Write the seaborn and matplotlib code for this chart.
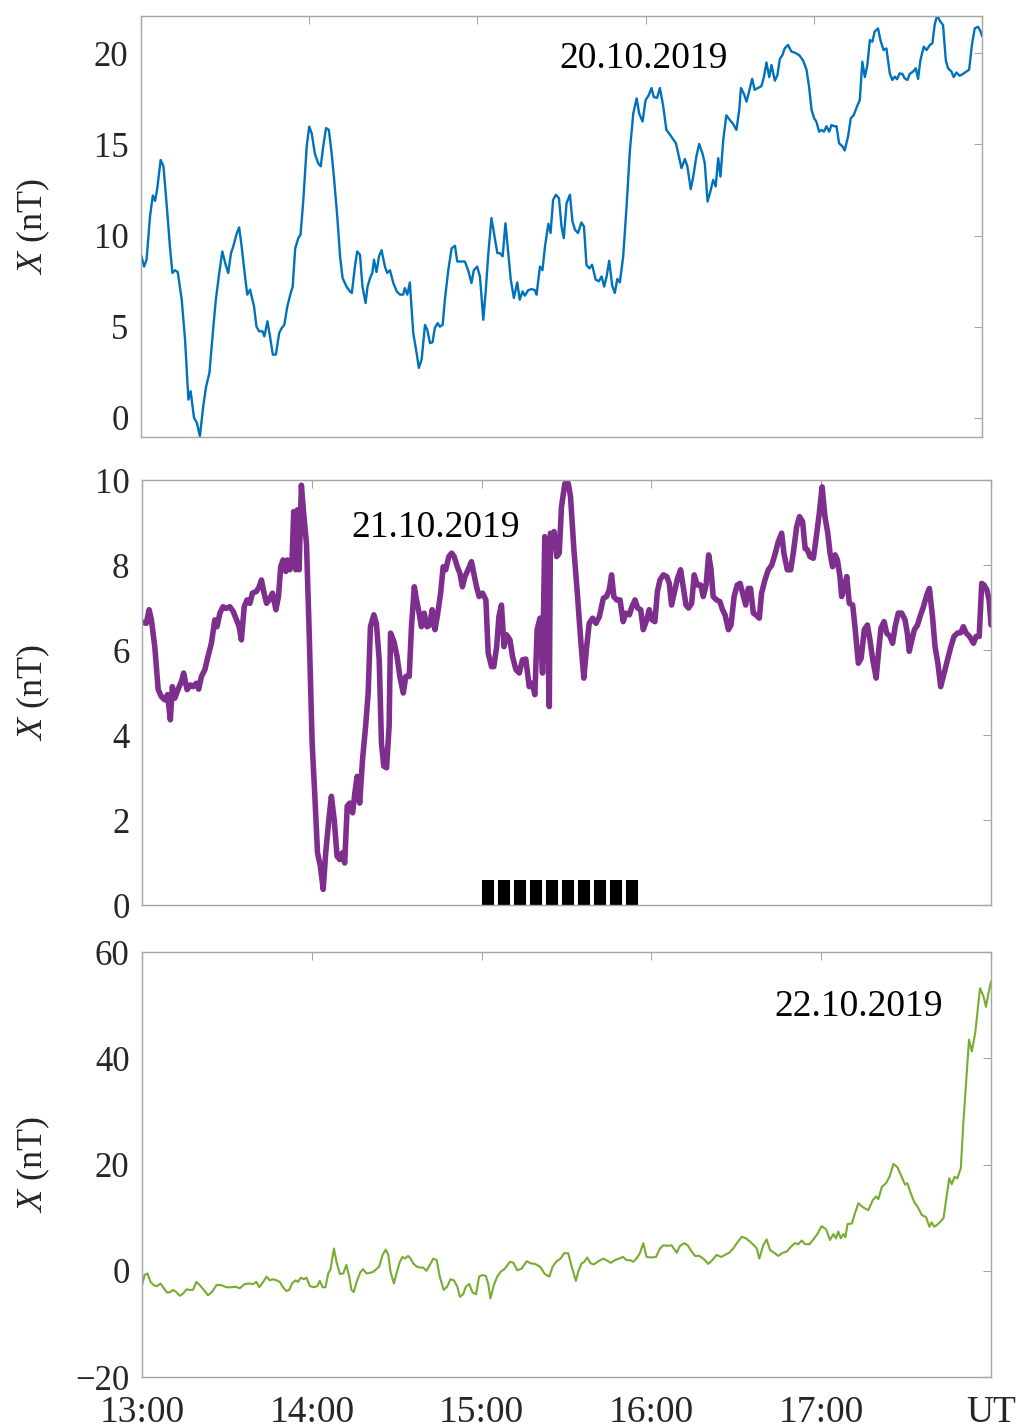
import numpy as np
import pandas as pd
import seaborn as sns
import matplotlib.pyplot as plt

# minutes after 13:00 UT and X component (nT)
t20 = [0.0, 1.1, 2.0, 3.2, 4.2, 5.0, 5.8, 7.0, 8.0, 9.2, 10.3, 11.2, 12.1, 13.1, 14.5, 15.7,
       16.9, 17.7, 18.9, 19.9, 21.0, 22.2, 23.2, 24.4, 25.8, 26.7, 27.9, 29.0, 30.0, 31.1,
       32.1, 32.9, 34.1, 35.0, 35.9, 37.1, 37.9, 38.9, 40.3, 41.2, 42.1, 43.3, 44.0, 45.1,
       46.0, 47.0, 48.1, 49.3, 50.2, 51.1, 52.2, 53.4, 54.1, 55.0, 56.1, 56.9, 57.9, 59.1,
       60.0, 60.9, 62.0, 63.2, 64.1, 65.0, 66.0, 67.0, 68.0, 68.9, 70.0, 71.0, 71.9, 73.3,
       74.5, 75.2, 76.3, 77.1, 78.1, 79.0, 80.1, 80.8, 81.7, 82.5, 83.1, 84.0, 84.9, 85.8,
       87.0, 87.8, 88.8, 90.0, 91.2, 92.4, 93.5, 94.1, 95.0, 95.9, 97.1, 98.3, 99.1, 100.1,
       101.3, 102.1, 103.1, 104.0, 104.8, 105.8, 106.6, 107.6, 108.4, 109.6, 110.8, 112.0,
       112.8, 114.3, 115.5, 116.7, 117.9, 118.7, 119.9, 120.9, 122.1, 123.0, 123.9, 125.0,
       125.9, 127.1, 128.0, 129.0, 130.0, 131.0, 131.9, 133.0, 134.2, 135.1, 136.1, 136.9,
       138.1, 139.3, 140.5, 141.1, 142.3, 143.2, 144.1, 145.3, 146.1, 147.0, 148.0, 149.1,
       150.0, 150.8, 151.8, 153.0, 153.9, 154.8, 155.9, 157.1, 158.0, 158.9, 159.9, 160.9,
       162.2, 163.3, 164.3, 165.2, 166.1, 167.0, 168.1, 169.0, 169.9, 170.8, 172.0, 173.2,
       174.4, 175.6, 176.8, 177.7, 178.9, 180.0, 181.1, 182.1, 182.9, 184.1, 185.1, 186.3,
       187.4, 188.4, 189.6, 190.8, 192.0, 192.8, 194.0, 194.9, 196.1, 197.0, 198.1, 199.1,
       200.3, 201.1, 202.1, 203.1, 204.1, 205.0, 205.9, 206.7, 207.7, 208.8, 210.0, 211.2,
       212.4, 213.4, 214.0, 215.0, 216.0, 216.9, 218.0, 218.9, 220.1, 221.3, 222.2, 223.1,
       224.1, 224.9, 226.1, 227.0, 227.9, 228.8, 229.6, 230.8, 232.0, 233.2, 234.8, 236.2,
       237.4, 238.3, 239.2, 240.1, 240.9, 241.9, 242.7, 243.6, 244.5, 245.5, 246.3, 247.2,
       248.1, 249.0, 250.2, 251.0, 252.2, 253.2, 254.2, 255.4, 256.4, 257.3, 258.2, 259.1,
       260.0, 260.9, 261.7, 262.9, 263.9, 264.9, 265.9, 267.1, 268.0, 268.9, 269.7, 270.6,
       271.6, 272.4, 273.4, 274.2, 275.4, 276.4, 277.2, 278.0, 279.2, 280.2, 281.4, 282.3,
       283.1, 284.0, 284.9, 286.1, 287.1, 287.9, 289.1, 289.9, 290.9, 292.0, 293.2, 294.4,
       295.4, 296.4, 297.4, 298.6, 299.5, 300.0]
x20 = [8.95, 8.3, 8.7, 11.05, 12.2, 11.9, 12.6, 14.15, 13.8, 11.6, 9.4, 7.95, 8.1, 8.0, 6.5, 4.3,
       1.0, 1.46, 0.0, -0.27, -1.0, 0.64, 1.7, 2.47, 5.0, 6.5, 7.95, 9.13, 8.5, 7.95,
       9.04, 9.4, 10.1, 10.45, 9.4, 7.76, 6.76, 7.03, 6.12, 5.0, 4.75, 4.75, 4.47, 5.3,
       4.47, 3.47, 3.47, 4.66, 4.93, 5.1, 6.12, 6.85, 7.2, 9.3, 9.86, 10.05, 11.96, 14.9,
       15.98, 15.6, 14.5, 13.97, 13.8, 14.9, 15.9, 15.8, 14.5, 13.06, 11.05, 8.86, 7.67, 7.2,
       6.94, 6.85, 8.3, 9.13, 8.95, 7.2, 6.3, 7.2, 7.67, 7.95, 8.68, 8.0, 8.86, 9.2,
       8.3, 7.95, 8.1, 7.4, 6.94, 6.76, 6.76, 7.12, 6.76, 7.43, 4.66, 3.56, 2.74, 3.2,
       5.1, 4.84, 4.1, 4.15, 4.93, 5.2, 5.0, 5.1, 6.5, 8.1, 9.3, 9.44,
       8.58, 8.58, 8.58, 8.1, 7.4, 8.1, 8.3, 7.76, 5.38, 7.03, 9.04, 10.96,
       10.14, 9.04, 9.04, 8.86, 10.68, 9.04, 7.58, 6.58, 7.43, 6.48, 6.94, 6.7,
       7.0, 7.07, 7.0, 6.76, 8.3, 8.1, 9.4, 10.65, 10.14, 11.96, 12.24, 12.05,
       10.5, 9.86, 11.78, 12.24, 10.78, 10.32, 10.14, 10.72, 10.5, 8.4, 8.2, 8.4,
       7.58, 7.49, 7.76, 7.2, 7.76, 8.62, 7.25, 6.85, 7.62, 7.43, 8.86, 11.6,
       14.7, 16.7, 17.53, 16.7, 16.26, 17.44, 17.7, 18.1, 17.6, 17.56, 18.1, 17.08,
       15.8, 15.6, 15.34, 15.07, 14.25, 13.7, 14.2, 13.8, 12.55, 13.24, 14.34, 15.03,
       14.5, 13.97, 11.87, 12.42, 13.06, 12.7, 14.25, 13.24, 15.25, 16.6, 16.35, 16.13,
       15.8, 16.9, 18.1, 17.8, 17.35, 17.9, 18.6, 18.0, 18.1, 18.2, 18.7, 19.5,
       18.7, 19.36, 18.5, 18.8, 19.7, 19.9, 20.27, 20.46, 20.1, 20.04, 19.9, 19.6,
       19.1, 18.17, 16.9, 16.44, 16.26, 15.7, 15.8, 15.7, 16.0, 15.7, 16.07, 16.0,
       16.0, 15.07, 14.9, 14.67, 15.43, 16.44, 16.6, 17.08, 17.44, 19.54, 18.7, 19.36,
       20.73, 20.64, 21.19, 21.37, 20.64, 20.18, 20.27, 18.9, 18.54, 18.72, 18.58, 18.9,
       18.87, 18.63, 18.54, 18.87, 19.0, 19.18, 18.6, 19.6, 20.37, 20.18, 20.46, 20.55,
       21.55, 22.1, 21.8, 21.55, 19.6, 19.18, 19.0, 18.7, 18.95, 18.77, 18.87, 19.0,
       19.1, 20.46, 21.37, 21.46, 21.2, 20.95]

t21 = [0.0, 1.5, 2.5, 3.3, 4.5, 5.7, 6.8, 8.0, 9.0, 10.0, 10.7, 11.6, 12.7, 13.9, 14.7, 15.9,
       17.1, 18.0, 19.2, 20.0, 21.0, 22.2, 23.3, 24.5, 25.7, 26.5, 27.5, 28.6, 29.8, 31.0,
       32.2, 33.4, 34.3, 35.1, 36.1, 37.1, 38.1, 39.0, 40.4, 41.4, 42.2, 43.1, 44.0, 44.9,
       46.1, 47.3, 48.2, 49.0, 49.8, 50.8, 51.4, 52.2, 53.0, 53.6, 54.3, 54.9, 55.5, 56.3,
       57.2, 58.1, 59.0, 60.1, 61.0, 62.0, 63.0, 64.0, 64.9, 66.0, 66.9, 67.9, 68.9, 69.9,
       70.8, 71.6, 72.5, 73.4, 74.4, 75.2, 76.0, 76.9, 77.9, 79.0, 79.9, 80.7, 81.9, 82.8,
       83.8, 84.6, 85.4, 86.4, 87.3, 87.8, 89.0, 90.1, 91.1, 92.3, 93.2, 94.4, 95.2, 96.2,
       97.0, 97.9, 98.7, 99.7, 100.7, 101.7, 102.5, 103.5, 104.4, 105.5, 106.4, 107.3,
       108.4, 109.4, 110.3, 111.4, 112.3, 113.2, 114.1, 115.2, 116.4, 117.2, 118.2, 119.1,
       120.3, 121.5, 122.3, 123.5, 124.3, 125.3, 126.1, 127.0, 127.9, 128.8, 130.0, 130.9,
       132.1, 133.3, 134.4, 135.6, 136.8, 137.8, 138.8, 139.6, 140.6, 141.5, 142.3, 143.2,
       143.9, 144.3, 145.1, 145.6, 146.5, 147.4, 148.2, 149.4, 150.6, 151.4, 152.6, 153.8,
       155.0, 156.1, 157.1, 158.0, 159.2, 160.4, 161.6, 163.0, 164.1, 165.1, 165.9, 166.7,
       167.7, 168.9, 170.0, 171.0, 172.2, 173.1, 174.2, 175.1, 176.2, 177.1, 178.3, 179.2,
       180.2, 181.2, 182.1, 183.0, 184.2, 185.4, 186.3, 187.1, 188.3, 189.2, 190.3, 191.2,
       192.2, 193.1, 194.2, 195.1, 196.2, 197.4, 198.3, 199.3, 200.2, 201.0, 201.8, 203.0,
       204.2, 205.1, 206.0, 207.2, 208.1, 209.2, 210.3, 211.3, 212.2, 213.3, 214.2, 215.0,
       216.0, 216.9, 218.1, 218.9, 220.1, 221.3, 222.5, 223.6, 224.8, 226.0, 226.8, 228.0,
       229.2, 230.1, 231.3, 232.3, 233.4, 234.3, 235.1, 236.0, 237.2, 238.1, 239.3, 240.3,
       241.3, 242.3, 243.1, 244.0, 244.9, 245.7, 246.6, 247.2, 248.2, 249.0, 249.9, 251.1,
       251.9, 253.1, 254.1, 255.2, 256.3, 257.2, 258.2, 259.4, 260.2, 261.1, 262.2, 263.1,
       264.3, 265.2, 266.1, 267.2, 268.4, 269.6, 270.4, 271.1, 272.0, 272.9, 274.0, 274.9,
       276.1, 277.3, 278.2, 279.3, 280.2, 281.2, 282.2, 283.4, 284.6, 285.8, 286.9, 288.1,
       289.3, 290.2, 291.2, 292.4, 293.8, 294.7, 295.8, 296.7, 297.5, 298.5, 299.3, 300.0]
x21 = [6.66, 6.63, 6.95, 6.71, 6.08, 5.07, 4.91, 4.83, 4.95, 4.36, 5.14, 4.87, 5.07, 5.26, 5.46, 5.07,
       5.18, 5.14, 5.22, 5.08, 5.38, 5.54, 5.85, 6.16, 6.71, 6.55, 6.87, 7.02, 6.98, 7.02,
       6.91, 6.71, 6.55, 6.24, 7.02, 7.18, 7.10, 7.34, 7.38, 7.49, 7.65, 7.34, 7.10, 7.18,
       7.34, 6.95, 7.26, 7.96, 8.12, 7.85, 8.12, 7.89, 8.12, 9.26, 7.89, 9.30, 7.89, 9.88,
       9.14, 8.51, 6.55, 3.81, 2.64, 1.23, 0.92, 0.37, 1.23, 2.01, 2.56, 2.01, 1.15, 1.07,
       1.23, 0.99, 2.33, 2.40, 2.17, 2.64, 3.03, 2.40, 3.42, 4.21, 4.99, 6.55, 6.83, 6.63,
       5.77, 3.81, 3.27, 3.23, 4.21, 6.40, 6.20, 5.85, 5.38, 4.99, 5.38, 5.38, 6.55, 7.49,
       7.18, 6.87, 6.55, 6.87, 6.55, 6.59, 6.95, 6.48, 6.83, 7.34, 7.96, 7.89,
       8.20, 8.28, 8.20, 7.96, 7.81, 7.49, 7.73, 7.89, 8.08, 7.81, 7.49, 7.26,
       7.34, 7.18, 5.93, 5.61, 5.61, 6.08, 6.79, 7.06, 6.08, 6.36, 6.24, 5.85,
       5.54, 5.46, 5.77, 5.79, 5.14, 5.22, 4.95, 6.48, 6.75, 5.46, 8.67, 6.71,
       4.67, 8.75, 8.59, 8.79, 8.20, 8.28, 9.37, 9.92, 9.92, 9.61, 8.36, 7.34,
       6.24, 5.34, 6.08, 6.63, 6.75, 6.63, 6.79, 7.22, 7.26, 7.42, 7.77, 7.26,
       7.18, 7.18, 6.67, 6.87, 6.83, 7.02, 7.18, 6.99, 6.95, 6.48, 6.71, 6.95,
       6.71, 6.67, 7.38, 7.65, 7.77, 7.73, 7.57, 7.06, 7.42, 7.69, 7.89, 7.49,
       7.06, 6.99, 7.10, 7.77, 7.53, 7.53, 7.26, 7.53, 8.24, 7.92, 7.26, 7.18,
       7.14, 6.95, 6.83, 6.48, 6.59, 7.26, 7.53, 7.57, 7.34, 7.06, 7.45, 7.45,
       6.87, 6.83, 6.75, 7.34, 7.65, 7.89, 8.00, 8.24, 8.55, 8.75, 8.28, 7.89,
       7.89, 8.28, 8.90, 9.14, 9.02, 8.39, 8.36, 8.20, 8.16, 8.59, 9.22, 9.84,
       9.14, 8.75, 8.28, 7.96, 8.24, 8.12, 7.73, 7.26, 7.49, 7.73, 7.10, 7.06,
       6.55, 5.69, 5.81, 6.48, 6.59, 6.24, 5.77, 5.34, 5.93, 6.52, 6.67, 6.40,
       6.32, 6.16, 6.55, 6.87, 6.87, 6.71, 6.40, 5.97, 6.24, 6.48, 6.59, 6.79,
       7.02, 7.30, 7.45, 6.79, 6.08, 5.69, 5.14, 5.46, 5.77, 6.08, 6.32, 6.40,
       6.41, 6.55, 6.40, 6.32, 6.16, 6.32, 6.32, 7.57, 7.53, 7.42, 7.18, 6.59]

t22 = [0.0, 0.9, 1.9, 3.0, 4.1, 5.3, 6.5, 7.7, 8.8, 10.0, 11.0, 12.1, 13.3, 14.5, 15.7, 16.9,
       18.0, 19.2, 20.4, 21.8, 23.3, 24.7, 26.3, 28.0, 29.8, 31.6, 33.1, 34.5, 36.3, 37.8,
       39.2, 40.4, 41.4, 42.8, 44.0, 45.1, 46.3, 47.5, 48.7, 49.8, 51.0, 52.0, 53.1, 54.3,
       55.1, 56.1, 57.2, 58.1, 59.3, 60.7, 61.9, 62.8, 63.8, 64.8, 65.8, 66.6, 67.8, 68.7,
       69.9, 71.1, 72.2, 73.2, 74.0, 74.8, 76.0, 77.2, 78.1, 79.3, 80.5, 81.7, 82.8, 83.8,
       85.0, 86.1, 87.0, 87.8, 89.0, 89.9, 91.1, 92.0, 92.9, 94.0, 94.9, 95.8, 97.0, 98.2,
       99.3, 100.5, 101.7, 102.9, 104.1, 105.2, 106.6, 107.8, 109.0, 110.2, 111.4, 112.3,
       113.5, 114.4, 115.6, 116.8, 118.0, 119.1, 120.3, 121.5, 122.3, 123.1, 124.3, 125.5,
       126.7, 128.2, 130.0, 131.2, 132.6, 134.1, 135.9, 137.3, 138.8, 140.6, 142.3, 143.9,
       145.1, 146.5, 147.9, 149.1, 150.6, 151.8, 153.3, 154.1, 155.3, 156.1, 157.3, 158.5,
       159.7, 161.2, 163.0, 164.4, 165.6, 167.1, 168.6, 170.0, 171.2, 172.4, 173.6, 174.7,
       175.9, 177.1, 178.3, 180.0, 181.6, 183.0, 184.2, 185.7, 187.1, 188.9, 190.1, 191.6,
       192.8, 194.2, 195.4, 196.9, 198.3, 200.1, 201.5, 203.0, 204.6, 206.0, 207.5, 208.9,
       210.3, 211.9, 213.4, 214.8, 216.2, 217.2, 218.1, 219.5, 220.7, 221.9, 223.3, 224.8,
       226.4, 227.8, 229.2, 230.7, 231.9, 233.1, 234.3, 235.8, 237.2, 238.6, 240.1, 241.7,
       243.1, 244.3, 245.2, 246.0, 246.9, 247.8, 248.5, 249.3, 250.8, 251.9, 253.1, 254.9,
       256.6, 258.2, 259.4, 260.2, 261.4, 262.9, 264.1, 265.5, 266.9, 268.4, 269.6, 270.4,
       271.6, 272.8, 274.3, 275.5, 277.0, 278.2, 279.0, 279.9, 280.8, 282.0, 283.2, 284.3,
       285.2, 286.1, 287.1, 288.1, 289.3, 290.2, 291.4, 292.2, 293.2, 294.4, 295.3, 296.1,
       297.3, 298.2, 299.1, 300.0]
x22 = [-2.7, -0.8, -0.5, -2.1, -2.7, -2.9, -2.4, -3.3, -4.1, -4.0, -3.6, -4.0, -4.7, -4.3, -3.5, -3.6,
       -3.6, -2.1, -2.7, -3.6, -4.6, -4.0, -2.7, -2.7, -3.1, -3.1, -3.0, -3.3, -2.5, -2.4,
       -2.5, -2.1, -3.1, -2.1, -1.1, -1.8, -1.6, -1.8, -2.1, -3.1, -3.8, -3.6, -2.3, -1.8,
       -2.1, -1.3, -1.6, -1.3, -2.9, -3.1, -2.9, -1.9, -3.1, -3.1, -0.5, 0.3, 4.2, 1.7,
       -0.6, -0.5, 1.1, -1.1, -3.6, -4.0, -1.8, -0.2, 0.3, -0.5, -0.4, -0.2, 0.3, 0.8,
       3.0, 4.0, 3.0, -0.2, -2.4, -0.5, 1.7, 2.6, 2.3, 2.8, 2.3, 1.4, 0.8, 0.6,
       0.6, 0.0, 1.1, 2.3, 2.0, -1.1, -3.6, -3.0, -1.6, -1.8, -3.0, -4.9,
       -4.4, -3.0, -2.5, -4.1, -4.4, -1.1, -0.8, -1.0, -2.4, -5.2, -2.7, -1.1,
       -0.2, 0.4, 1.7, 1.5, 0.1, 0.4, 1.8, 1.4, 1.3, 0.8, -0.6, -1.1,
       0.8, 1.8, 2.3, 3.3, 3.3, 0.8, -1.9, -0.2, 1.4, 1.6, 2.5, 1.4,
       1.2, 1.8, 2.3, 1.9, 1.5, 2.0, 2.3, 2.6, 2.0, 2.0, 1.7, 2.3,
       3.3, 5.2, 2.6, 2.5, 2.6, 4.2, 4.8, 4.7, 4.8, 3.4, 4.7, 5.2,
       4.8, 3.6, 2.8, 2.8, 2.3, 1.3, 2.0, 3.0, 2.6, 3.0, 3.4, 4.2,
       5.3, 6.4, 6.1, 5.5, 4.8, 4.2, 2.3, 4.8, 5.9, 3.9, 3.4, 2.8,
       3.4, 3.6, 4.5, 5.2, 5.0, 5.7, 5.0, 5.0, 5.9, 6.9, 8.4, 7.8,
       5.8, 6.9, 6.1, 7.4, 6.1, 6.9, 6.3, 8.8, 8.9, 10.8, 12.7, 11.9,
       11.4, 13.3, 14.0, 13.5, 15.8, 16.5, 17.7, 20.1, 19.5, 17.7, 16.2, 16.5,
       14.6, 13.0, 11.8, 10.5, 10.1, 8.3, 9.1, 8.3, 8.6, 9.2, 9.9, 14.0,
       17.4, 16.3, 17.7, 17.4, 19.3, 27.8, 37.2, 43.5, 41.3, 44.8, 49.2, 53.2,
       51.7, 49.7, 52.3, 54.5]

# black interval marks on the 21.10 panel (start minute after 13:00)
bar_start = [120.0, 125.7, 131.3, 137.0, 142.6, 148.3, 154.0, 159.6, 165.3, 170.9]
bar_len = 4.2
bar_height = 0.6

hour_ticks = [13, 14, 15, 16, 17, 18]
hour_labels = ['13:00', '14:00', '15:00', '16:00', '17:00', 'UT']

sns.set_theme(style='white')
plt.rcParams['font.family'] = ['Liberation Serif', 'DejaVu Serif']
plt.rcParams['mathtext.fontset'] = 'custom'
plt.rcParams['mathtext.it'] = 'Liberation Serif:italic'
plt.rcParams['mathtext.rm'] = 'Liberation Serif'
plt.rcParams['axes.unicode_minus'] = True

grey = '#a6a6a6'
txt = '#262626'

fig = plt.figure(figsize=(10.19, 14.28), dpi=100)
ax1 = fig.add_axes([0.1384, 0.6940, 0.8253, 0.2948])
ax2 = fig.add_axes([0.1394, 0.3662, 0.8332, 0.2976])
ax3 = fig.add_axes([0.1394, 0.0357, 0.8332, 0.2976])

panels = [
    (ax1, t20, x20, '#0072BD', 1.7),
    (ax2, t21, x21, '#7E2F8E', 4.0),
    (ax3, t22, x22, '#77AC30', 1.5),
]
for ax, t, x, col, lw in panels:
    df = pd.DataFrame({'hour': 13 + np.array(t) / 60.0, 'X': x})
    sns.lineplot(data=df, x='hour', y='X', ax=ax, color=col, lw=lw,
                 estimator=None, sort=False)

ax2.bar(13 + np.array(bar_start) / 60.0, bar_height, width=bar_len / 60.0,
        align='edge', color='black', lw=0)

ax1.set_ylim(-1.05, 22.05)
ax1.set_yticks([0, 5, 10, 15, 20])
ax2.set_ylim(0, 10)
ax2.set_yticks([0, 2, 4, 6, 8, 10])
ax3.set_ylim(-20, 60)
ax3.set_yticks([-20, 0, 20, 40, 60])

for ax in (ax1, ax2, ax3):
    ax.set_xlim(13, 18)
    ax.set_xticks(hour_ticks)
    ax.tick_params(direction='in', top=True, right=True, length=6, width=0.8,
                   color=grey, labelcolor=txt, labelsize=25, pad=9)
    for s in ax.spines.values():
        s.set_color(grey)
        s.set_linewidth(1.0)
    ax.set_xlabel('')
    ax.set_ylabel('$X$ (nT)', fontsize=26, color=txt)
    ax.yaxis.set_label_coords(-0.106, 0.5)

ax1.tick_params(labelbottom=False)
ax2.tick_params(labelbottom=False)
ax3.set_xticklabels(hour_labels, fontsize=27)
ax3.tick_params(axis='x', pad=13)

ax1.text(15.99, 19.7, '20.10.2019', ha='center', va='center', fontsize=27, color='black')
ax2.text(14.73, 8.87, '21.10.2019', ha='center', va='center', fontsize=27, color='black')
ax3.text(17.22, 49.7, '22.10.2019', ha='center', va='center', fontsize=27, color='black')

fig.savefig('out.png', dpi=100)
